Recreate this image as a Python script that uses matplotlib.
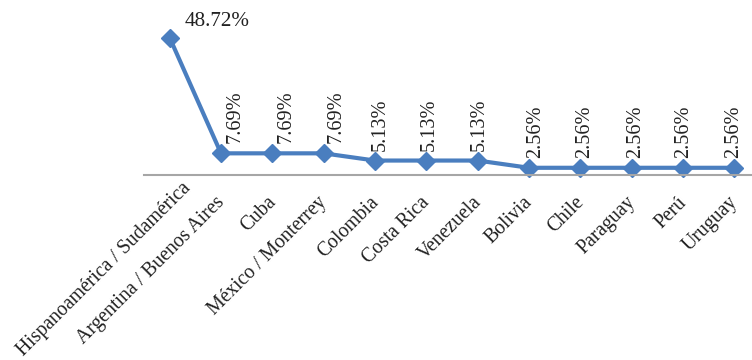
import matplotlib.pyplot as plt
from matplotlib.transforms import ScaledTranslation

plt.rcParams['font.family'] = ['Liberation Serif', 'DejaVu Serif']

# share of records by place
places = ['Hispanoamérica / Sudamérica', 'Argentina / Buenos Aires', 'Cuba',
          'México / Monterrey', 'Colombia', 'Costa Rica', 'Venezuela',
          'Bolivia', 'Chile', 'Paraguay', 'Perú', 'Uruguay']
shares = [48.72, 7.69, 7.69, 7.69, 5.13, 5.13, 5.13, 2.56, 2.56, 2.56, 2.56, 2.56]

blue = '#4A7EBF'
ink = '#222222'

fig = plt.figure(figsize=(7.52, 3.60), dpi=100)
ax = fig.add_axes([144 / 752, 1 - 175 / 360, 616 / 752, 155 / 360])

x = list(range(len(places)))
ax.plot(x, shares, color=blue, lw=3, marker='D', ms=9, mec=blue, mfc=blue,
        solid_joinstyle='round', clip_on=False)

ax.set_xlim(-0.5, len(places) - 0.5)
ax.set_ylim(0, 55)

for s in ['top', 'right', 'left']:
    ax.spines[s].set_visible(False)
ax.spines['bottom'].set_color('#A6A6A6')
ax.spines['bottom'].set_linewidth(1.5)
ax.set_yticks([])
ax.set_xticks(x)
ax.set_xticklabels([])
ax.tick_params(axis='x', length=0)

# category labels, slanted; the long first one is slid up along its slope
for i, name in enumerate(places):
    dx, dy = -6, -18
    if i == 0:
        dx, dy = 12, -4
    off = ScaledTranslation(dx / 100, dy / 100, fig.dpi_scale_trans)
    ax.text(i, 0, name, transform=ax.get_xaxis_transform() + off,
            rotation=45, ha='right', va='top', rotation_mode='anchor',
            fontsize=14.2, color=ink)

# value labels; the vertical ones sit a little right of their point
nudge = [0, 14, 13.5, 12.5, 5.5, 2.5, 1.5, 7, 4.5, 4, 0.5, -0.5]
for i, v in enumerate(shares):
    txt = f'{v:.2f}%'
    if i == 0:
        ax.annotate(txt, (i, v), xytext=(11, 8.6), textcoords='offset points',
                    ha='left', va='baseline', fontsize=15.2, color=ink)
    else:
        ax.annotate(txt, (i, v), xytext=(nudge[i] * 0.72, 7.2),
                    textcoords='offset points', ha='center', va='bottom',
                    rotation=90, fontsize=14.6, color=ink)

fig.savefig('out.png', dpi=100)
